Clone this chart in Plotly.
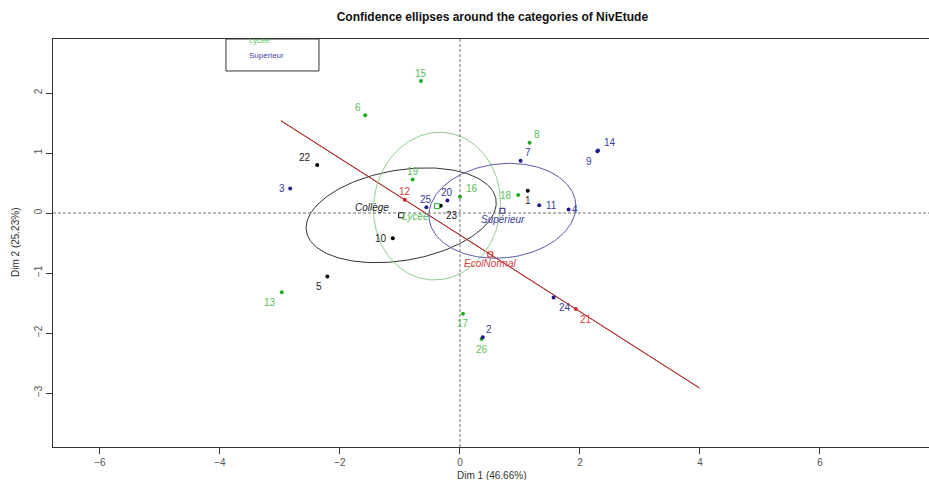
import numpy as np
import plotly.graph_objects as go

# Individuals on the first factorial plane
ids = [str(i) for i in range(1, 27)]
dim1 = [1.13, 0.38, -2.83, 1.81, -2.21, -1.58, 1.01, 1.16, 2.29, -1.12,
        1.32, -0.92, -2.97, 2.30, -0.65, 0.00, 0.05, 0.97, -0.79, -0.21,
        1.93, -2.38, -0.32, 1.56, -0.56, 0.36]
dim2 = [0.37, -2.07, 0.41, 0.06, -1.06, 1.63, 0.87, 1.17, 1.03, -0.42,
        0.13, 0.22, -1.32, 1.04, 2.20, 0.27, -1.68, 0.30, 0.56, 0.21,
        -1.60, 0.80, 0.12, -1.41, 0.095, -2.10]
niv_etude = ["Collège", "Supérieur", "Supérieur", "Supérieur", "Collège", "Lycée",
             "Supérieur", "Lycée", "Supérieur", "Collège", "Supérieur", "EcolNormal",
             "Lycée", "Supérieur", "Lycée", "Lycée", "Lycée", "Lycée", "Lycée",
             "Supérieur", "EcolNormal", "Collège", "Collège", "Supérieur",
             "Supérieur", "Lycée"]
categories = ["Collège", "EcolNormal", "Lycée", "Supérieur"]

# Styling
point_col = {"Collège": "#000000", "EcolNormal": "#D02828",
             "Lycée": "#22AA22", "Supérieur": "#1E1E8C"}
text_col = {"Collège": "#222222", "EcolNormal": "#D84040",
            "Lycée": "#58BE58", "Supérieur": "#3A3AA0"}
ell_col = {"Collège": "#333333", "EcolNormal": "#B03030",
           "Lycée": "#8CCF8C", "Supérieur": "#5A5AAA"}

# Label offsets in pixels (dx right, dy down)
label_off = {
    "1": (0, 10), "2": (6, -8), "3": (-8, 0), "4": (6, 0), "5": (-8, 10),
    "6": (-7, -8), "7": (7, -8), "8": (7, -8), "9": (-8, 10), "10": (-12, 0),
    "11": (12, 0), "12": (0, -8), "13": (-12, 10), "14": (12, -8), "15": (0, -8),
    "16": (12, -8), "17": (0, 10), "18": (-12, 0), "19": (0, -8), "20": (0, -8),
    "21": (10, 10), "22": (-12, -8), "23": (11, 10), "24": (11, 10), "25": (0, -8),
    "26": (0, 10),
}
cat_label_off = {"Collège": (-29, -8), "Lycée": (-21, 10),
                 "Supérieur": (1, 9), "EcolNormal": (0, 9)}

FONT = "Liberation Sans, Arial, sans-serif"
x = np.array(dim1)
y = np.array(dim2)
g = np.array(niv_etude)

fig = go.Figure()
annotations = []

# Confidence ellipses around each category mean (95%, chi-square with 2 df)
t = np.linspace(0, 2 * np.pi, 200)
chi2_95 = 5.991
centroids = {}
for c in categories:
    m = g == c
    pts = np.vstack([x[m], y[m]])
    n = pts.shape[1]
    mu = pts.mean(axis=1)
    centroids[c] = mu
    cov = np.cov(pts)
    vals, vecs = np.linalg.eigh(cov)
    vals = np.clip(vals, 0, None)
    k = np.sqrt(chi2_95 / n)
    circ = np.vstack([np.cos(t), np.sin(t)])
    ell = mu[:, None] + k * vecs @ (np.sqrt(vals)[:, None] * circ)
    fig.add_trace(go.Scatter(x=ell[0], y=ell[1], mode="lines",
                             line=dict(color=ell_col[c], width=1),
                             hoverinfo="skip", showlegend=False))

# Individuals
for c in categories:
    m = g == c
    fig.add_trace(go.Scatter(x=x[m], y=y[m], mode="markers",
                             marker=dict(color=point_col[c], size=4),
                             showlegend=False, name=c))
for i, lab in enumerate(ids):
    dx, dy = label_off[lab]
    annotations.append(dict(x=dim1[i], y=dim2[i], text=lab, showarrow=False,
                            xshift=dx, yshift=-dy,
                            font=dict(family=FONT, size=10,
                                      color=text_col[niv_etude[i]])))

# Category means
for c in categories:
    mu = centroids[c]
    fig.add_trace(go.Scatter(x=[mu[0]], y=[mu[1]], mode="markers",
                             marker=dict(symbol="square-open", size=5,
                                         color=point_col[c], line=dict(width=1)),
                             showlegend=False, name=c))
    dx, dy = cat_label_off[c]
    annotations.append(dict(x=mu[0], y=mu[1], text="<i>" + c + "</i>",
                            showarrow=False, xshift=dx, yshift=-dy,
                            font=dict(family=FONT, size=10, color=text_col[c])))

# Legend box (top part falls outside the frame)
annotations.append(dict(x=-3.55, y=2.875, xanchor="left", text="Lycée",
                        showarrow=False, font=dict(family=FONT, size=8,
                                                   color="#66C866")))
annotations.append(dict(x=-3.55, y=2.63, xanchor="left", text="Supérieur",
                        showarrow=False, font=dict(family=FONT, size=8,
                                                   color="#4444AA")))

# Axis titles
annotations.append(dict(xref="paper", yref="paper", x=0.5, y=0, yshift=-28,
                        text="Dim 1 (46.66%)", showarrow=False,
                        yanchor="middle",
                        font=dict(family=FONT, size=10, color="#333333")))
annotations.append(dict(xref="paper", yref="paper", x=0, y=0.5, xshift=-38,
                        text="Dim 2 (25.23%)", showarrow=False, textangle=-90,
                        xanchor="center",
                        font=dict(family=FONT, size=10, color="#333333")))

shapes = [
    dict(type="line", xref="x", yref="paper", x0=0, x1=0, y0=0, y1=1,
         line=dict(color="#707070", width=1, dash="3px,2px")),
    dict(type="line", xref="paper", yref="y", x0=0, x1=1, y0=0, y1=0,
         line=dict(color="#707070", width=1, dash="3px,2px")),
    dict(type="rect", xref="x", yref="y", x0=-3.9, x1=-2.35, y0=2.367, y1=2.9,
         line=dict(color="#333333", width=1), fillcolor="rgba(0,0,0,0)"),
]

fig.update_layout(
    width=929, height=480,
    margin=dict(l=53, r=0, t=39, b=33),
    paper_bgcolor="white", plot_bgcolor="white",
    title=dict(text="<b>Confidence ellipses around the categories of NivEtude</b>",
               x=0.53, xanchor="center", y=1 - 17 / 480, yanchor="middle",
               font=dict(family=FONT, size=12, color="#111111")),
    xaxis=dict(range=[-6.783, 7.817], tickvals=[-6, -4, -2, 0, 2, 4, 6],
               showgrid=False, zeroline=False, showline=True, mirror=True,
               linecolor="#333333", linewidth=1, ticks="outside", ticklen=6,
               tickcolor="#333333",
               tickfont=dict(family=FONT, size=10, color="#555555")),
    yaxis=dict(range=[-3.9, 2.9], tickvals=[-3, -2, -1, 0, 1, 2],
               showgrid=False, zeroline=False, showline=True, mirror=True,
               linecolor="#333333", linewidth=1, ticks="outside", ticklen=6,
               tickcolor="#333333", tickangle=-90,
               tickfont=dict(family=FONT, size=10, color="#555555")),
    annotations=annotations,
    shapes=shapes,
    showlegend=False,
)

fig.write_html("out.html")
